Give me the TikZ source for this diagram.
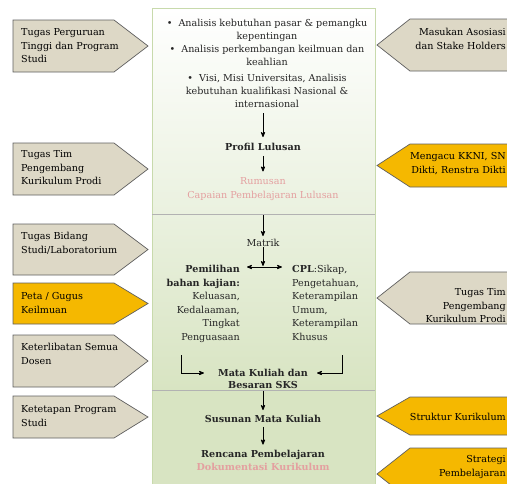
\documentclass[tikz,border=0pt]{standalone}
\usepackage{fontspec}
\setmainfont{DejaVu Serif}
\usetikzlibrary{arrows,positioning}

\definecolor{tagGray}{RGB}{221,216,198}
\definecolor{tagYellow}{RGB}{245,184,0}
\definecolor{tagLine}{RGB}{95,95,95}
\definecolor{panelLine}{RGB}{200,218,172}
\definecolor{panelTop}{RGB}{234,241,223}
\definecolor{panelMid}{RGB}{216,228,194}
\definecolor{pinkText}{RGB}{228,160,160}

\begin{document}
\begin{tikzpicture}[x=1pt,y=-1pt,>=stealth',
    font=\fontsize{9.6}{13.6}\selectfont,
    tag/.style={draw=tagLine,line width=0.7pt},
    ltext/.style={anchor=north west,align=left,inner sep=0pt},
    rtext/.style={anchor=north east,align=right,inner sep=0pt},
    mid/.style={align=center,inner sep=0pt,text=black!85},
    flow/.style={->,line width=0.8pt}]

    \useasboundingbox (0,0) rectangle (507,483);
    \clip (0,0) rectangle (507,483);

    % panel in the middle
    \shade[top color=white,bottom color=panelTop] (152,8) rectangle (375,214);
    \shade[top color=panelTop,bottom color=panelMid] (152,214) rectangle (375,390);
    \fill[panelMid] (152,390) rectangle (375,495);
    \draw[panelLine,line width=1pt] (152,8) rectangle (375,495);
    \draw[black!30] (152,214) -- (375,214);
    \draw[black!30] (152,390) -- (375,390);

    % tags on the left
    \foreach \yt/\yb/\yl/\col/\nm/\txt in {
        20/72/28.5/tagGray/tugasPT/{Tugas Perguruan\\Tinggi dan Program\\Studi},
        143/195/150.5/tagGray/tugasTim/{Tugas Tim\\Pengembang\\Kurikulum Prodi},
        224/275/232.5/tagGray/tugasBidang/{Tugas Bidang\\Studi/Laboratorium},
        283/324/292.5/tagYellow/petaGugus/{Peta / Gugus\\Keilmuan},
        335/387/343.5/tagGray/semuaDosen/{Keterlibatan Semua\\Dosen},
        396/438/405.5/tagGray/ketetapan/{Ketetapan Program\\Studi}}
    {
        \draw[tag,fill=\col] (13,\yt) -- (114,\yt) -- (148,{(\yt+\yb)/2})
            -- (114,\yb) -- (13,\yb) -- cycle;
        \node[ltext] (\nm) at (21,\yl) {\txt};
    }

    % tags on the right
    \foreach \yt/\yb/\yl/\col/\nm/\txt in {
        19/71/28.5/tagGray/masukan/{Masukan Asosiasi\\dan Stake Holders},
        144/187/152.5/tagYellow/mengacu/{Mengacu KKNI, SN\\Dikti, Renstra Dikti},
        272/324/288.5/tagGray/timProdi/{Tugas Tim\\Pengembang\\Kurikulum Prodi},
        397/435/413.5/tagYellow/struktur/{Struktur Kurikulum},
        448/500/455.5/tagYellow/strategi/{Strategi\\Pembelajaran}}
    {
        \draw[tag,fill=\col] (377,{(\yt+\yb)/2}) -- (410,\yt) -- (520,\yt)
            -- (520,\yb) -- (410,\yb) -- cycle;
        \node[rtext] (\nm) at (506,\yl) {\txt};
    }

    % upper part
    \node[mid,font=\fontsize{9.6}{13}\selectfont] (analisis) at (267,63) {\textbullet\ \ Analisis kebutuhan pasar \& pemangku\\
        kepentingan\\
        \textbullet\ \ Analisis perkembangan keilmuan dan\\
        keahlian\\[3pt]
        \textbullet\ \ Visi, Misi Universitas, Analisis\\
        kebutuhan kualifikasi Nasional \&\\
        internasional};
    \node[mid,font=\fontsize{9.6}{13.6}\selectfont\bfseries] (profil) at (263,147) {Profil Lulusan};
    \node[mid,text=pinkText] (rumusan) at (263,189) {Rumusan\\Capaian Pembelajaran Lulusan};

    \draw[flow,shorten <=6pt,shorten >=6pt] (profil.north |- analisis.south) -- (profil.north);
    \draw[flow,shorten <=5pt,shorten >=6pt] (profil) -- (rumusan.north);

    % middle part
    \coordinate (cut1) at (263,215);
    \node[mid] (matrik) at (263,243) {Matrik};
    \coordinate (split) at (263,266);
    \coordinate (splitL) at (247,267);
    \coordinate (splitR) at (282,267);
    \draw[flow] (cut1) -- ([yshift=3pt]matrik.north);
    \draw[flow] (matrik) -- (split);
    \draw[<->,line width=0.8pt] (splitL) -- (splitR);

    \node[rtext,text=black!85] (bahan) at (240,265) {\textbf{Pemilihan}\\\textbf{bahan kajian:}\\
        Keluasan,\\Kedalaaman,\\Tingkat\\Penguasaan};
    \node[ltext,text=black!85] (cpl) at (292,265) {\textbf{CPL}:Sikap,\\Pengetahuan,\\
        Keterampilan\\Umum,\\Keterampilan\\Khusus};

    \node[mid,font=\fontsize{9.6}{12.4}\selectfont\bfseries] (matkul) at (263,379) {Mata Kuliah dan\\Besaran SKS};
    \coordinate (bahanEnd) at (181,355);
    \coordinate (cplEnd) at (342,355);
    \draw[flow] (bahanEnd) |- ([xshift=-14pt,yshift=6pt]matkul.west);
    \draw[flow] (cplEnd) |- ([xshift=9pt,yshift=6pt]matkul.east);

    % lower part
    \coordinate (cut2) at (263,391);
    \node[mid,font=\fontsize{9.6}{13.6}\selectfont\bfseries] (susunan) at (263,419) {Susunan Mata Kuliah};
    \node[mid,font=\fontsize{9.6}{13}\selectfont\bfseries] (rencana) at (263,460)
        {Rencana Pembelajaran\\\textcolor{pinkText}{Dokumentasi Kurikulum}};
    \draw[flow] (cut2) -- ([yshift=5pt]susunan.north);
    \draw[flow,shorten <=4pt,shorten >=5pt] (susunan) -- (rencana.north);
\end{tikzpicture}
\end{document}
